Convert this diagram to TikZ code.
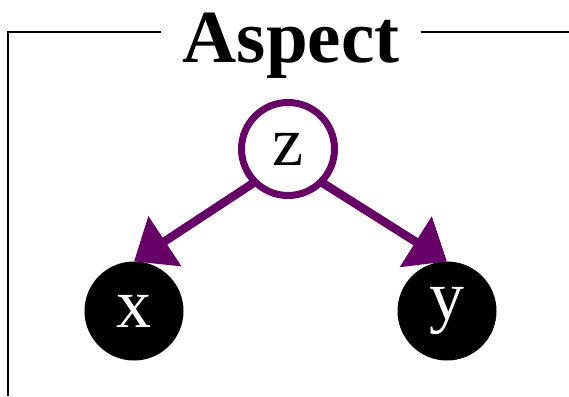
\documentclass[tikz,border=0pt]{standalone}
\usepackage{fontspec}
\setmainfont{Liberation Serif}
\usepackage{tikz}
\usetikzlibrary{arrows.meta,positioning}
\definecolor{plum}{RGB}{102,0,102}

\begin{document}
\begin{tikzpicture}[
    x=1pt, y=-1pt,
    latent/.style={circle, draw=plum, line width=7pt, fill=white,
                   minimum size=93pt, inner sep=0pt, outer sep=0pt,
                   font=\fontsize{70}{72}\selectfont},
    observed/.style={circle, fill=black, text=white,
                   minimum size=99pt, inner sep=0pt, outer sep=0pt,
                   font=\fontsize{70}{72}\selectfont},
    arrow/.style={-{Triangle[length=37pt, width=58pt]}, plum, line width=8.5pt},
    frame/.style={line width=2pt}
]
\useasboundingbox (0,0) rectangle (569,396);

% plate
\node[font=\bfseries\fontsize{75}{77}\selectfont, anchor=base,
      inner xsep=21pt] (title) at (291,62) {Aspect};
\coordinate (tl) at (8,32);
\coordinate (bl) at (8,396);
\coordinate (tr) at (569,32);
\draw[frame] (title.west |- tl) -- (tl) -- (bl);
\draw[frame] (title.east |- tr) -- (tr);

% variables
\node[latent] (z) at (288,149) {z};
\node[observed] (x) at (134,311) {x};
\node[observed] (y) at (447,311) {y};

\draw[arrow] (z.225) -- (x.north);
\draw[arrow] (z.-45) -- (y.north);

\end{tikzpicture}
\end{document}
